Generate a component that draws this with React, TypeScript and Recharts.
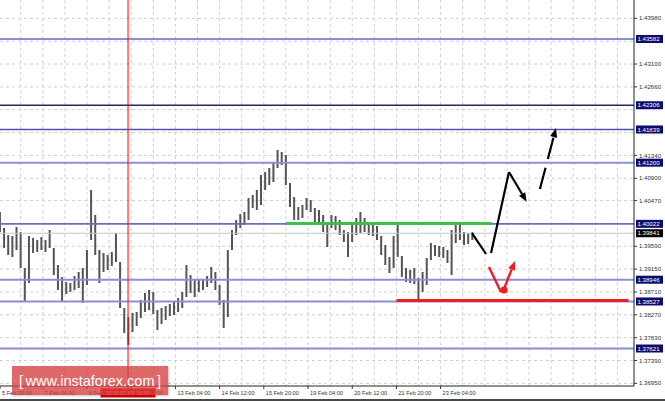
import {
  ComposedChart,
  Bar,
  XAxis,
  YAxis,
  CartesianGrid,
  ReferenceLine,
  ReferenceDot,
} from "recharts";

// hour offsets of each (3-hour) bar
const hours = [
  -15, -12, -9, -6, -3, 0, 3, 6, 9, 12, 15, 18, 21, 24, 27, 30, 33, 36, 39, 42,
  45, 48, 51, 54, 57, 60, 63, 66, 69, 72, 75, 78, 81, 84, 87, 90, 93, 96, 99, 102,
  105, 108, 111, 114, 117, 120, 123, 126, 129, 132, 135, 138, 141, 144, 147, 150,
  153, 156, 159, 162, 165, 168, 171, 174, 177, 180, 183, 186, 189, 192, 195, 198,
  201, 204, 207, 210, 213, 216, 219, 222, 225, 228, 231, 234, 237, 240, 243, 246,
  249, 252, 255, 258, 261, 264, 267, 270, 273, 276, 279, 282, 285, 288, 291, 294,
  297, 300, 303, 306, 309, 312, 315, 318, 321, 324, 327,
];

const highs = [
  1.4025, 1.39942, 1.39807, 1.39788, 1.39961, 1.39865, 1.39171, 1.39788, 1.39749, 1.39711,
  1.39768, 1.39711, 1.39903, 1.39557, 1.39229, 1.38998, 1.38902, 1.38882, 1.39017, 1.39094,
  1.39171, 1.39518, 1.40674, 1.40192, 1.39518, 1.3946, 1.39422, 1.3948, 1.39845, 1.39287,
  1.38401, 1.38228, 1.38305, 1.38324, 1.38555, 1.3869, 1.38748, 1.38709, 1.38362, 1.38401,
  1.38439, 1.38478, 1.38517, 1.38594, 1.38709, 1.39229, 1.39036, 1.3894, 1.3894, 1.38959,
  1.39017, 1.39191, 1.39094, 1.38844, 1.38555, 1.39518, 1.39903, 1.40096, 1.40211, 1.4025,
  1.4052, 1.40577, 1.40674, 1.40963, 1.4102, 1.41097, 1.41194, 1.41444, 1.41406, 1.41348,
  1.40808, 1.40539, 1.40346, 1.40385, 1.4052, 1.40481, 1.40327, 1.40288, 1.40192, 1.40038,
  1.40192, 1.40173, 1.40096, 1.39903, 1.39865, 1.40057, 1.40134, 1.4025, 1.40134, 1.40057,
  1.40019, 1.3998, 1.39788, 1.39614, 1.39383, 1.39788, 1.40057, 1.39402, 1.39171, 1.39133,
  1.39171, 1.38979, 1.39094, 1.39364, 1.39653, 1.39614, 1.39595, 1.39576, 1.39518, 1.39903,
  1.40038, 1.40019, 1.39865, 1.39845, 1.39865,
];

const lows = [
  1.39865, 1.39557, 1.39422, 1.39383, 1.39518, 1.39171, 1.38517, 1.38882, 1.3946, 1.3948,
  1.39518, 1.3948, 1.39557, 1.39036, 1.38748, 1.38517, 1.38671, 1.38709, 1.38748, 1.38786,
  1.38497, 1.38844, 1.39711, 1.39422, 1.38882, 1.39094, 1.39133, 1.3921, 1.39287, 1.38401,
  1.37919, 1.37688, 1.37939, 1.38054, 1.38208, 1.38324, 1.38362, 1.38285, 1.37977, 1.38093,
  1.3817, 1.38247, 1.38266, 1.38324, 1.38401, 1.38613, 1.3869, 1.38613, 1.38709, 1.38748,
  1.38805, 1.38882, 1.38748, 1.38459, 1.38016, 1.38228, 1.39518, 1.39807, 1.39942, 1.39999,
  1.40096, 1.40327, 1.40288, 1.40385, 1.40674, 1.4077, 1.40828, 1.41097, 1.41155, 1.4077,
  1.40346, 1.40096, 1.40096, 1.40134, 1.40288, 1.4025, 1.40057, 1.39999, 1.39865, 1.39576,
  1.39942, 1.39903, 1.39807, 1.39672, 1.39383, 1.39672, 1.39807, 1.39845, 1.39865, 1.39807,
  1.39788, 1.39711, 1.39422, 1.39229, 1.39075, 1.39171, 1.39383, 1.38998, 1.38902, 1.38882,
  1.38863, 1.3854, 1.38709, 1.38844, 1.39325, 1.39402, 1.39383, 1.39364, 1.39268, 1.39036,
  1.39653, 1.39711, 1.39614, 1.39634, 1.39711,
];

const priceTicks = [
  1.4398, 1.431, 1.4266, 1.4134, 1.409, 1.4047, 1.3959, 1.3915, 1.3871, 1.3827,
  1.3783, 1.3739, 1.3695,
];
const priceGrid = [
  1.4398, 1.4354, 1.431, 1.4266, 1.4222, 1.4178, 1.4134, 1.409, 1.4047, 1.4003,
  1.3959, 1.3915, 1.3871, 1.3827, 1.3783, 1.3739, 1.3695,
];
const timeGrid = [
  0, 16, 32, 48, 64, 80, 96, 112, 128, 144, 160, 176, 192, 208, 224, 240, 256, 272,
  288, 304, 320, 336, 352, 368, 384, 400, 416, 432,
];
const markerTime = 77.7;
const markerLabel = "2018.02.09 16:00";
// the cursor time tag is listed last so it paints over the date labels
const timeTicks = [-15, 16, 48, 80, 112, 144, 176, 208, 240, 272, 304, markerTime];
const timeLabels: Record<number, string> = {
  [-15]: "5 Feb 20:00",
  16: "7 Feb 04:00",
  48: "8 Feb 12:00",
  80: "9 Feb 20:00",
  112: "13 Feb 04:00",
  144: "14 Feb 12:00",
  176: "15 Feb 20:00",
  208: "19 Feb 04:00",
  240: "20 Feb 12:00",
  272: "21 Feb 20:00",
  304: "23 Feb 04:00",
  [markerTime]: markerLabel,
};

const levels = [1.43582, 1.42306, 1.41839, 1.412, 1.40022, 1.38946, 1.38527, 1.37621];
const levelColors = ["#8e8ed2", "#262673", "#5252aa", "#8e8ed2", "#6e6eb8", "#8e8ed2", "#8e8ed2", "#8e8ed2"];
const levelWidths = [2, 1.3, 1.6, 2, 1.6, 2, 2, 2];
const bidPrice = 1.39841;

// drawn analysis marks, in (hour, price)
const greenSegment = [
  { x: 192, y: 1.4003 },
  { x: 341, y: 1.4003 },
];
const redSupport = [
  { x: 272, y: 1.38545 },
  { x: 440, y: 1.38545 },
];
const blackLines = [
  [
    { x: 326.7, y: 1.39845 },
    { x: 336.9, y: 1.39441 },
  ],
  [
    { x: 340.5, y: 1.3946 },
    { x: 353.5, y: 1.4102 },
  ],
];
const blackArrow = [
  { x: 353.5, y: 1.4102 },
  { x: 366.3, y: 1.40448 },
];
const blackDashedArrow = [
  { x: 375.9, y: 1.40693 },
  { x: 387.5, y: 1.41862 },
];
const redLine = [
  { x: 339, y: 1.39191 },
  { x: 347.7, y: 1.38709 },
];
const redArrow = [
  { x: 349.9, y: 1.38767 },
  { x: 357.8, y: 1.39306 },
];
const redDot = { x: 349.9, y: 1.38748 };

const data = hours.map((t, i) => ({ t, range: [lows[i], highs[i]] }));

const FONT = "'Liberation Sans', Arial, sans-serif";

function arrowShape(color: string, width: number, dash?: string) {
  return (p: any) => {
    const x1 = Number(p.x1);
    const y1 = Number(p.y1);
    const x2 = Number(p.x2);
    const y2 = Number(p.y2);
    const ang = Math.atan2(y2 - y1, x2 - x1);
    const len = 9;
    const half = 3.6;
    const bx = x2 - len * Math.cos(ang);
    const by = y2 - len * Math.sin(ang);
    const px = -Math.sin(ang) * half;
    const py = Math.cos(ang) * half;
    return (
      <g>
        <line
          x1={x1}
          y1={y1}
          x2={bx}
          y2={by}
          stroke={color}
          strokeWidth={width}
          strokeDasharray={dash}
        />
        <polygon
          points={`${x2},${y2} ${bx + px},${by + py} ${bx - px},${by - py}`}
          fill={color}
        />
      </g>
    );
  };
}

function PriceTag({ viewBox, text, bg }: any) {
  if (!viewBox) return null;
  const x = viewBox.x + viewBox.width + 2;
  const y = viewBox.y;
  return (
    <g>
      <rect x={x} y={y - 4} width={27} height={8} fill={bg} />
      <text x={x + 1.5} y={y + 2.2} fontSize={6.1} fill="#fff" fontFamily={FONT}>
        {text}
      </text>
    </g>
  );
}

function PriceTick({ x, y, payload }: any) {
  return (
    <g>
      <line x1={x} y1={y} x2={x + 3} y2={y} stroke="#333" />
      <text x={x + 5} y={y + 2.1} fontSize={6.1} fill="#333" fontFamily={FONT}>
        {Number(payload.value).toFixed(5)}
      </text>
    </g>
  );
}

function TimeTick({ x, y, payload }: any) {
  const v = payload.value;
  if (v === markerTime) {
    return (
      <g>
        <line x1={x} y1={y} x2={x} y2={y + 3} stroke="#ff0000" />
        <rect x={x - 27.5} y={y + 2.5} width={55} height={9} fill="#e80000" />
        <text
          x={x}
          y={y + 9.2}
          fontSize={5.8}
          fill="#ffd0d0"
          textAnchor="middle"
          fontFamily={FONT}
        >
          {timeLabels[v]}
        </text>
      </g>
    );
  }
  return (
    <g>
      <line x1={x} y1={y} x2={x} y2={y + 3} stroke="#333" />
      <text x={x + 2} y={y + 9} fontSize={5.6} fill="#333" fontFamily={FONT}>
        {timeLabels[v] ?? String(v)}
      </text>
    </g>
  );
}

export default function App() {
  return (
    <div
      style={{
        position: "absolute",
        left: 0,
        top: 0,
        width: 665,
        height: 402,
        background: "#fff",
        fontFamily: FONT,
        overflow: "hidden",
      }}
    >
      <ComposedChart
        width={665}
        height={402}
        data={data}
        margin={{ top: 0, right: 0, bottom: 0, left: 0 }}
      >
        <CartesianGrid
          stroke="#cfcfcf"
          strokeDasharray="3 3"
          horizontalValues={priceGrid}
          verticalValues={timeGrid}
        />
        <XAxis
          dataKey="t"
          type="number"
          domain={[-15, 444]}
          allowDataOverflow
          ticks={timeTicks}
          tick={<TimeTick />}
          tickSize={0}
          tickMargin={0}
          height={16}
          stroke="#222"
          interval={0}
        />
        <YAxis
          orientation="right"
          type="number"
          domain={[1.36899, 1.44333]}
          allowDataOverflow
          ticks={priceTicks}
          tick={<PriceTick />}
          tickSize={0}
          tickMargin={0}
          width={31}
          stroke="#222"
          interval={0}
        />
        <ReferenceLine
          y={bidPrice}
          stroke="#c4c4c4"
          strokeWidth={1}
          label={<PriceTag text={bidPrice.toFixed(5)} bg="#000" />}
        />
        {levels.map((p, i) => (
          <ReferenceLine
            key={p}
            y={p}
            stroke={levelColors[i]}
            strokeWidth={levelWidths[i]}
            label={<PriceTag text={p.toFixed(5)} bg="#0c0c6c" />}
          />
        ))}
        <ReferenceLine x={markerTime} stroke="#ff0000" strokeWidth={1} />
        <Bar dataKey="range" fill="#545454" barSize={2} isAnimationActive={false} />
        <ReferenceLine segment={greenSegment} stroke="#3dbd4a" strokeWidth={3} />
        <ReferenceLine segment={redSupport} stroke="#ee1c25" strokeWidth={3} />
        {blackLines.map((seg, i) => (
          <ReferenceLine key={i} segment={seg} stroke="#000" strokeWidth={2.2} />
        ))}
        <ReferenceLine segment={blackArrow} shape={arrowShape("#000", 2.2)} />
        <ReferenceLine segment={blackDashedArrow} shape={arrowShape("#000", 2.2, "22 9")} />
        <ReferenceLine segment={redLine} stroke="#ee1c25" strokeWidth={2.4} />
        <ReferenceLine segment={redArrow} shape={arrowShape("#ee1c25", 2.4)} />
        <ReferenceDot x={redDot.x} y={redDot.y} r={3.6} fill="#ee1c25" stroke="none" />
      </ComposedChart>
      <div
        style={{
          position: "absolute",
          left: 12,
          top: 366,
          width: 156,
          height: 29,
          background: "rgba(214, 62, 62, 0.78)",
          color: "#fff",
          display: "flex",
          alignItems: "center",
          justifyContent: "space-between",
          padding: "0 7px",
          boxSizing: "border-box",
          fontSize: 14.5,
          fontFamily: FONT,
          boxShadow: "1px 1px 2px rgba(0,0,0,0.25)",
        }}
      >
        <span>[</span>
        <span>www.instaforex.com</span>
        <span>]</span>
      </div>
      <div
        style={{
          position: "absolute",
          left: 0,
          top: 399,
          width: 665,
          height: 2,
          background: "#4a4a4a",
        }}
      />
    </div>
  );
}
